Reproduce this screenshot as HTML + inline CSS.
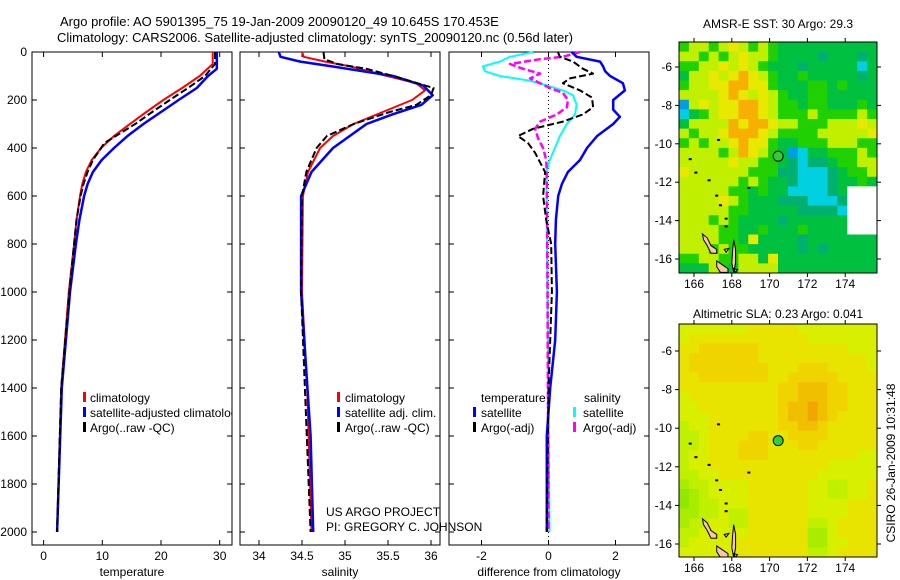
<!DOCTYPE html>
<html><head><meta charset="utf-8"><style>
html,body{margin:0;padding:0;background:#fff;}
svg{display:block;font-family:"Liberation Sans",Arial,sans-serif;}
</style></head><body>
<svg id="s" width="900" height="580" viewBox="0 0 900 580" xmlns="http://www.w3.org/2000/svg">
<defs>
<clipPath id="c1"><rect x="32" y="45" width="200" height="500"/></clipPath>
<clipPath id="c2"><rect x="240" y="45" width="200" height="500"/></clipPath>
<clipPath id="c3"><rect x="449" y="45" width="200" height="500"/></clipPath>
<clipPath id="m1"><rect x="679" y="42" width="198" height="231"/></clipPath>
<clipPath id="m2"><rect x="679" y="324" width="198" height="233"/></clipPath>
</defs>
<text x="60" y="26" font-size="13">Argo profile: AO 5901395_75 19-Jan-2009 20090120_49 10.645S 170.453E</text>
<text x="57" y="42" font-size="13">Climatology: CARS2006. Satellite-adjusted climatology: synTS_20090120.nc (0.56d later)</text>
<g id="g"></g>
<text x="326" y="516" font-size="12">US ARGO PROJECT</text>
<text x="326" y="531" font-size="12">PI: GREGORY C. JOHNSON</text>
<text x="0" y="0" font-size="12" transform="translate(895,463) rotate(-90)" text-anchor="middle">CSIRO 26-Jan-2009 10:31:48</text>
<text x="778" y="28" font-size="12" text-anchor="middle">AMSR-E SST: 30 Argo: 29.3</text>
<text x="778" y="318" font-size="12" text-anchor="middle">Altimetric SLA: 0.23 Argo: 0.041</text>
</svg>
<script>
// ---- profile data ----
const tClimDepth=[0,50,100,150,200,250,300,350,400,450,500,550,600,700,800,1000,1400,2000];
const tClim=[28.8,28.8,26.6,23.6,20.4,17.5,14.7,12.0,9.8,8.2,7.2,6.6,6.2,5.6,5.2,4.3,3.0,2.3];
const tSatDepth=[0,70,100,150,200,250,300,350,400,450,500,550,600,700,800,1000,1400,2000];
const tSat=[29.5,29.5,28.0,26.1,23.0,20.0,17.0,14.3,12.0,9.9,8.4,7.5,6.9,6.1,5.5,4.5,3.1,2.3];
const tArgoDepth=[0,50,100,150,200,250,300,350,380,400,450,500,550,600,700,800,1000,1400,2000];
const tArgo=[29.2,29.2,27.5,24.6,21.5,18.5,15.6,12.3,10.3,9.8,8.4,7.5,6.8,6.3,5.6,5.2,4.4,3.0,2.3];
const sClimDepth=[0,20,40,60,100,130,160,200,250,300,350,400,500,600,1000,1400,2000];
const sClim=[34.50,34.52,34.77,35.06,35.49,35.83,35.93,35.78,35.44,35.10,34.86,34.71,34.57,34.51,34.50,34.56,34.61];
const sSatDepth=[0,20,40,60,80,100,140,180,220,260,300,400,500,600,1000,1600,2000];
const sSat=[34.23,34.25,34.48,34.85,35.20,35.56,35.91,36.02,35.89,35.55,35.25,34.86,34.61,34.49,34.49,34.60,34.63];
const sArgoDepth=[0,30,50,70,100,150,180,220,250,300,350,400,500,600,1000,2000];
const sArgo=[34.75,34.76,34.91,35.25,35.56,36.03,36.00,35.83,35.52,35.10,34.79,34.67,34.55,34.50,34.49,34.60];
const dTSatDepth=[0,20,40,60,80,100,130,160,200,240,270,300,350,400,450,500,550,600,700,800,1000,1200,1400,1600,2000];
const dTSat=[0.69,0.84,1.54,1.63,1.69,1.84,2.22,2.28,1.93,1.93,2.13,1.93,1.45,1.15,0.94,0.58,0.40,0.29,0.22,0.20,0.25,0.20,0.05,-0.05,-0.05];
const dTArgoDepth=[0,20,40,70,90,110,130,160,190,230,260,290,320,350,380,420,460,500,600,700,800,1000,1400,2000];
const dTArgo=[0.28,0.34,0.73,1.03,1.33,0.64,0.43,0.94,1.30,1.33,1.03,0.43,-0.46,-0.91,-0.61,-0.40,-0.25,-0.10,-0.16,-0.07,0.08,0.10,0.0,-0.05];
const dSSatDepth=[0,20,40,60,80,100,120,140,160,180,220,260,300,350,400,450,500,600,1000,2000];
const dSSat=[-0.46,-1.15,-1.45,-1.96,-1.90,-1.45,-0.55,-0.04,0.43,0.73,0.84,0.79,0.55,0.34,0.19,0.04,-0.06,-0.06,-0.03,0.03];
const dSArgoDepth=[0,20,30,50,70,90,110,130,150,170,200,230,260,290,320,360,400,450,500,1000,2000];
const dSArgo=[0.94,0.43,-0.25,-1.15,-0.76,-0.25,-0.55,-0.25,0.04,0.43,0.58,0.55,0.25,-0.25,-0.40,-0.31,-0.16,-0.07,-0.05,-0.03,0.0];
const depthTicks=[0,200,400,600,800,1000,1200,1400,1600,1800,2000];
const tTicks=[0,10,20,30];
const sTicks=[34,34.5,35,35.5,36];
const sTickLabels=["34","34.5","35","35.5","36"];
const dTicks=[-2,0,2];
// ---- map data (0-9 colour classes, w = missing) ----
const sstRows=[
"67767876765555555555","77676787765555455545","66778787655545555535",
"57787898765565555545","67788998865556656555","77778987876556655555",
"27878899876656655565","35678899876667666676","57777989987766677787",
"76778999876666777778","67677898865566677766","77776798765235566676",
"77777877665434456677","87777776664433345667","77777767655433345565",
"77777665655333345www","77778765554443334www","77777665555544443www",
"77767655554555555www","77776655655565555www","77776658555545555555",
"77767665555545455555","66776677585555555555","55576577775555555555"];
const slaRows=[
"55555556666655555555","56666666666665555555","66777777666666666555",
"67777777666666666665","67777777766677766665","66777777766777776666",
"66666666667788877666","56666666667788877666","55666666667889877666",
"55566666667889876666","45566666667788766666","44566667766777766666",
"44566677766677666666","45566677766666666655","45566666666666655555",
"44556666666666555555","34455556666665544556","23455556666665544556",
"23445556666665555666","33445446666665555666","34455446666664456666",
"44555556666663356666","45555566666663355666","55555566666664456666"];
const argoLon=170.453, argoLat=-10.645;
const lonTicks=[166,168,170,172,174];
const latTicks=[-6,-8,-10,-12,-14,-16];

const NS="http://www.w3.org/2000/svg";
const G=document.getElementById('g');
function mk(tag,attrs,parent){const e=document.createElementNS(NS,tag);for(const k in attrs)e.setAttribute(k,attrs[k]);(parent||G).appendChild(e);return e;}
const yD=d=>52+0.24*d;
const xT=t=>43.6+5.87*t;
const xS=s=>259+86*(s-34);
const xDf=d=>548.5+33.5*d;

function frame(x0,x1,name,xs,vals,labels,xlabel){
  const r=mk('rect',{x:x0,y:52,width:x1-x0,height:493,fill:'none',stroke:'#000','stroke-width':1});
  
  
  vals.forEach((v,i)=>{const x=xs(v);
    mk('line',{x1:x,x2:x,y1:545,y2:540,stroke:'#000'});
    mk('line',{x1:x,x2:x,y1:52,y2:57,stroke:'#000'});
    const t=mk('text',{x:x,y:560,'font-size':12,'text-anchor':'middle'});t.textContent=labels[i];
    
    
  });
  depthTicks.forEach(d=>{mk('line',{x1:x0,x2:x0+5,y1:yD(d),y2:yD(d),stroke:'#000'});mk('line',{x1:x1,x2:x1-5,y1:yD(d),y2:yD(d),stroke:'#000'});});
  const xl=mk('text',{x:(x0+x1)/2,y:576,'font-size':12,'text-anchor':'middle'});xl.textContent=xlabel;
  
  
}
frame(32,232,'temperature-panel',xT,tTicks,tTicks.map(String),'temperature');
frame(240,440,'salinity-panel',xS,sTicks,sTickLabels,'salinity');
frame(449,649,'difference-panel',xDf,dTicks,dTicks.map(String),'difference from climatology');
depthTicks.forEach(d=>{const t=mk('text',{x:27,y:yD(d)+4,'font-size':12,'text-anchor':'end'});t.textContent=d;
  
  });
const zl=mk('line',{x1:xDf(0),x2:xDf(0),y1:52,y2:545,stroke:'#000','stroke-dasharray':'1,3'});



function series(depths,vals,xf,color,w,dash,clip,name){
  const p=depths.map((d,i)=>xf(vals[i]).toFixed(1)+','+yD(d).toFixed(1)).join(' ');
  const a={points:p,fill:'none',stroke:color,'stroke-width':w,'clip-path':'url(#'+clip+')','stroke-linejoin':'round'};
  if(dash)a['stroke-dasharray']=dash;
  const e=mk('polyline',a);
  
  
}
series(tClimDepth,tClim,xT,'#f00',2,null,'c1','temp-climatology-line');
series(tSatDepth,tSat,xT,'#00f',2.5,null,'c1','temp-satellite-line');
series(tArgoDepth,tArgo,xT,'#000',2,'7,3','c1','temp-argo-line');
series(sClimDepth,sClim,xS,'#f00',2,null,'c2','sal-climatology-line');
series(sSatDepth,sSat,xS,'#00f',2.5,null,'c2','sal-satellite-line');
series(sArgoDepth,sArgo,xS,'#000',2,'7,3','c2','sal-argo-line');
series(dSSatDepth,dSSat,xDf,'#0ff',2,null,'c3','diff-sal-satellite-line');
series(dSArgoDepth,dSArgo,xDf,'#f0f',2.5,'7,3','c3','diff-sal-argo-line');
series(dTSatDepth,dTSat,xDf,'#00f',2.5,null,'c3','diff-temp-satellite-line');
series(dTArgoDepth,dTArgo,xDf,'#000',2,'7,3','c3','diff-temp-argo-line');

function leg(mx,tx,y,color,label,clip,name){
  if(color){const m=mk('rect',{x:mx-1,y:y-8,width:3,height:10,fill:color});
    
    }
  const t=mk('text',{x:tx,y:y+2,'font-size':12,'clip-path':'url(#'+clip+')'});t.textContent=label;
  
  
}
leg(84,90,400,'#f00','climatology','c1','legend-climatology');
leg(84,90,415,'#00f','satellite-adjusted climatology','c1','legend-satellite-adjusted');
leg(84,90,430,'#000','Argo(..raw -QC)','c1','legend-argo');
leg(338,345,400,'#f00','climatology','c2','legend-sal-climatology');
leg(338,345,415,'#00f','satellite adj. clim.','c2','legend-sal-satellite');
leg(338,345,430,'#000','Argo(..raw -QC)','c2','legend-sal-argo');
leg(0,481,400,null,'temperature','c3','legend-temperature-heading');
leg(474,481,415,'#00f','satellite','c3','legend-diff-temp-satellite');
leg(474,481,430,'#000','Argo(-adj)','c3','legend-diff-temp-argo');
leg(0,584,400,null,'salinity','c3','legend-salinity-heading');
leg(574,583,415,'#0ff','satellite','c3','legend-diff-sal-satellite');
leg(574,583,430,'#f0f','Argo(-adj)','c3','legend-diff-sal-argo');

// ---- maps ----
const sstCols={'0':'#000090','1':'#0060e0','2':'#00a0e0','3':'#00d0e0','4':'#00b070','5':'#00c040','6':'#20d000','7':'#c0f000','8':'#e8e800','9':'#f8b000','w':'#ffffff'};
const slaCols={'0':'#60d800','1':'#70e000','2':'#90e800','3':'#a8ec00','4':'#c0f000','5':'#d8f000','6':'#e8e400','7':'#f0d400','8':'#f0c000','9':'#f0a800'};
const islands=[
 [[166.45,-14.7],[166.7,-14.9],[166.9,-15.3],[167.2,-15.5],[167.2,-15.7],[166.9,-15.7],[166.7,-15.3],[166.5,-15.0]],
 [[167.2,-16.1],[167.5,-16.3],[167.8,-16.5],[167.8,-16.7],[167.4,-16.7],[167.2,-16.4]],
 [[168.1,-15.0],[168.2,-15.5],[168.2,-16.2],[168.1,-16.7],[168.0,-16.2],[168.05,-15.5]],
 [[167.6,-15.5],[167.85,-15.45],[167.7,-15.65]],
 [[168.1,-16.5],[168.3,-16.55],[168.2,-16.7]]];
const dots=[[165.8,-10.8],[166.1,-11.5],[166.8,-11.9],[167.2,-12.7],[167.4,-13.2],[167.7,-13.9],[167.7,-14.3],[167.3,-9.8],[168.9,-12.3]];
function map(rows,cols,x0,y0,w,h,latTopY,name,clip){
  const lx=lon=>694+(lon-166)*18.9;
  const ly=lat=>latTopY+(-6-lat)*((h===231)?19.2:19.3);
  const cw=w/20, ch=h/24;
  rows.forEach((r,j)=>{for(let i=0;i<r.length;i++){
    const c=mk('rect',{x:(x0+i*cw).toFixed(2),y:(y0+j*ch).toFixed(2),width:(cw+0.4).toFixed(2),height:(ch+0.4).toFixed(2),fill:cols[r[i]]});
    
    
  }});
  islands.forEach(p=>{const e=mk('polygon',{points:p.map(q=>lx(q[0]).toFixed(1)+','+ly(q[1]).toFixed(1)).join(' '),fill:'#f8c8a0',stroke:'#000','stroke-width':1,'clip-path':'url(#'+clip+')'});
    
    });
  dots.forEach(q=>{const e=mk('rect',{x:lx(q[0])-1.5,y:ly(q[1])-1,width:3,height:2,fill:'#000'});
    
    });
  const f=mk('rect',{x:x0,y:y0,width:w,height:h,fill:'none',stroke:'#000','stroke-width':1});
  
  
  lonTicks.forEach(l=>{const x=lx(l);mk('line',{x1:x,x2:x,y1:y0,y2:y0-4,stroke:'#000'});mk('line',{x1:x,x2:x,y1:y0+h,y2:y0+h+4,stroke:'#000'});
    const t=mk('text',{x:x,y:y0+h+15,'font-size':12,'text-anchor':'middle'});t.textContent=l;
    
    });
  latTicks.forEach(l=>{const y=ly(l);mk('line',{x1:x0,x2:x0-4,y1:y,y2:y,stroke:'#000'});mk('line',{x1:x0+w,x2:x0+w+4,y1:y,y2:y,stroke:'#000'});
    const t=mk('text',{x:672,y:y+4,'font-size':12,'text-anchor':'end'});t.textContent=l;
    
    });
  const a=mk('circle',{cx:lx(argoLon),cy:ly(argoLat),r:5,fill:'#30d030',stroke:'#000','stroke-width':1});
  
  
}
map(sstRows,sstCols,679,42,198,231,67,'sst-map','m1');
map(slaRows,slaCols,679,324,198,233,351,'sla-map','m2');
</script>
</body></html>
